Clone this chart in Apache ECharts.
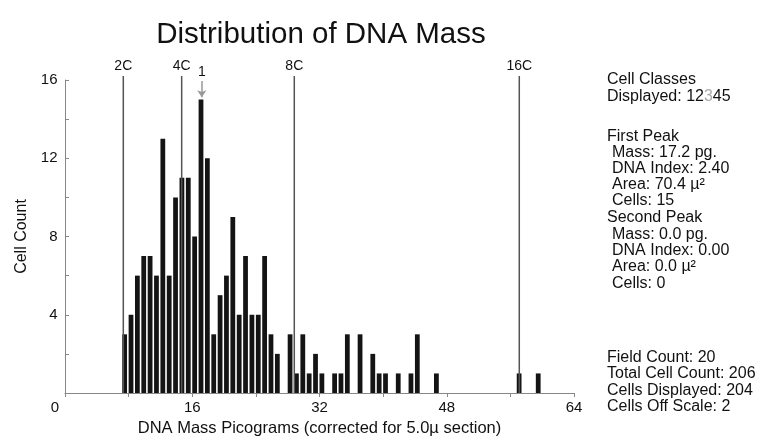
<!DOCTYPE html>
<html><head><meta charset="utf-8">
<script src="https://cdn.jsdelivr.net/npm/echarts@6/dist/echarts.min.js"></script>
<style>html,body{margin:0;padding:0;background:#fff}#c{width:765px;height:443px}</style>
</head><body><div id="c"></div>
<script>
// Histogram bins (bin start, pg) and cell counts
const binMass = [7.2, 8.0, 8.8, 9.6, 10.4, 11.2, 12.0, 12.8, 13.6, 14.4, 15.2, 16.0, 16.8, 17.6, 18.4, 19.2, 20.0, 20.8, 21.6, 22.4, 23.2, 24.0, 24.8, 25.6, 26.4,
                 28.0, 28.8, 29.6, 30.4, 31.2, 32.0, 33.6, 34.4, 35.2, 36.8, 38.4, 39.2, 40.0, 41.6, 43.2, 44.0, 46.4, 56.8, 59.2];
const binCount = [3, 4, 6, 7, 7, 6, 13, 6, 10, 11, 11, 8, 15, 12, 3, 5, 6, 9, 4, 7, 4, 4, 7, 3, 2,
                  3, 1, 3, 1, 2, 1, 1, 1, 3, 3, 2, 1, 1, 1, 1, 3, 1, 1, 1];
// Ploidy reference lines
const ploidyLabels = ['2C', '4C', '8C', '16C'];
const ploidyMass = [7.33, 14.67, 28.83, 57.12];
// Peak marker
const peakLabel = '1';
const peakMass = 17.2;
// Axis ticks
const xTickValues = [0, 16, 32, 48, 64];
const yTickValues = [0, 4, 8, 12, 16];
// Info panel text
const panelLines = [
  'Cell Classes', 'Displayed: 12{g|3}45',
  'First Peak', ' Mass: 17.2 pg.', ' DNA Index: 2.40', ' Area: 70.4 µ²', ' Cells: 15',
  'Second Peak', ' Mass: 0.0 pg.', ' DNA Index: 0.00', ' Area: 0.0 µ²', ' Cells: 0',
  'Field Count: 20', 'Total Cell Count: 206', 'Cells Displayed: 204', 'Cells Off Scale: 2'
];

// ---- layout / style ----
const panelY = [80, 97, 137, 153, 169, 185, 201, 218, 235, 251, 267, 284, 358, 374, 391, 407];
const FONT = '"Liberation Sans", Arial, sans-serif';
const barDrawWidth = 0.6;
const lineTop = 16.2;

const chart = echarts.init(document.getElementById('c'), null, {renderer: 'canvas'});

const graphics = panelLines.map((t, i) => {
  const indent = t.startsWith(' ');
  return {
    type: 'text', x: indent ? 612 : 607, y: panelY[i], silent: true,
    style: {
      text: t.trim(), fill: '#111', fontSize: 16, fontFamily: FONT,
      align: 'left', verticalAlign: 'middle',
      rich: {g: {fill: '#aaa', fontSize: 16, fontFamily: FONT}}
    }
  };
});

chart.setOption({
  animation: false,
  backgroundColor: '#fff',
  title: {
    text: 'Distribution of DNA Mass', left: 316, top: 15, textAlign: 'center',
    textStyle: {fontSize: 29.5, fontWeight: 'normal', color: '#111', fontFamily: FONT}
  },
  grid: {left: 65, right: 191, top: 80, bottom: 50},
  xAxis: {
    type: 'value', min: xTickValues[0], max: xTickValues[xTickValues.length - 1], interval: xTickValues[1] - xTickValues[0],
    axisLine: {show: true, lineStyle: {color: '#888', width: 1}},
    axisTick: {show: true, length: 4, lineStyle: {color: '#888'}},
    minorTick: {show: true, splitNumber: 2, length: 4, lineStyle: {color: '#888'}},
    splitLine: {show: false},
    axisLabel: {
      fontSize: 15, color: '#111', margin: 7, fontFamily: FONT, alignMinLabel: 'right',
      formatter: (v) => (v === xTickValues[0] ? '{z|' + v + '}' : String(v)),
      rich: {z: {fontSize: 15, color: '#111', fontFamily: FONT, padding: [0, 6, 0, 0]}}
    },
    name: 'DNA Mass Picograms (corrected for 5.0µ section)', nameLocation: 'middle', nameGap: 27,
    nameTextStyle: {fontSize: 16.5, color: '#111', fontFamily: FONT}
  },
  yAxis: {
    type: 'value', min: yTickValues[0], max: yTickValues[yTickValues.length - 1], interval: yTickValues[1] - yTickValues[0],
    offset: 2.5,
    axisLine: {show: true, lineStyle: {color: '#888', width: 1}},
    axisTick: {show: true, inside: true, length: 4, lineStyle: {color: '#888'}},
    minorTick: {show: true, splitNumber: 2, length: 4, lineStyle: {color: '#888'}},
    splitLine: {show: false},
    axisLabel: {fontSize: 15, color: '#111', margin: 5, fontFamily: FONT, showMinLabel: false},
    name: 'Cell Count', nameLocation: 'middle', nameGap: 33, nameRotate: 90,
    nameTextStyle: {fontSize: 16, color: '#111', fontFamily: FONT}
  },
  series: [{
    type: 'custom',
    data: binMass.map((m, i) => [m, binCount[i]]),
    encode: {x: 0, y: 1},
    renderItem: function (params, api) {
      const m = api.value(0), c = api.value(1);
      const p0 = api.coord([m, c]);
      const p1 = api.coord([m + barDrawWidth, 0]);
      return {type: 'rect', shape: {x: p0[0], y: p0[1], width: p1[0] - p0[0], height: p1[1] - p0[1]},
              style: {fill: '#141414'}};
    },
    markLine: {
      silent: true, symbol: ['none', 'none'], animation: false,
      emphasis: {disabled: true},
      data: [[
        {coord: [peakMass, 15.95], symbol: 'none',
         lineStyle: {color: '#999', width: 1.5, type: 'solid'},
         label: {show: true, position: 'start', formatter: peakLabel, distance: 2, color: '#111', fontSize: 14, fontFamily: FONT}},
        {coord: [peakMass, 15.12], symbol: 'arrow', symbolSize: [7, 7]}
      ]]
    }
  }, {
    type: 'custom',
    clip: false,
    silent: true,
    data: ploidyMass.map((m) => [m, 0]),
    encode: {x: 0, y: 1},
    renderItem: function (params, api) {
      const m = api.value(0);
      const b = api.coord([m, 0]);
      const t = api.coord([m, lineTop]);
      return {type: 'group', children: [
        {type: 'line', shape: {x1: b[0], y1: b[1], x2: t[0], y2: t[1]}, style: {stroke: '#555', lineWidth: 1.5}},
        {type: 'text', x: t[0], y: t[1] - 3,
         style: {text: ploidyLabels[params.dataIndex], align: 'center', verticalAlign: 'bottom', fill: '#111', fontSize: 14, fontFamily: FONT}}
      ]};
    }
  }],
  graphic: graphics
});
</script></body></html>
